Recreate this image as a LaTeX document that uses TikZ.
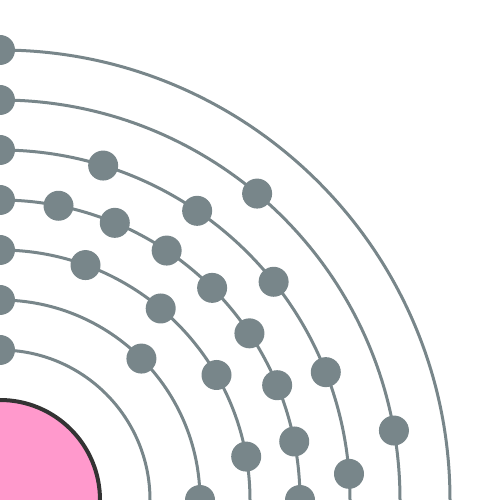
\documentclass[tikz,border=0pt]{standalone}
\definecolor{shellgray}{HTML}{78868A}
\definecolor{nucpink}{HTML}{FF99CC}
\definecolor{nucedge}{HTML}{333333}
\tikzset{
  shell/.style={draw=shellgray, line width=3pt},
  electron/.style={circle, fill=shellgray, minimum size=30pt, inner sep=0pt},
  nucleus/.style={circle, fill=nucpink, draw=nucedge, line width=4pt, minimum size=200pt, inner sep=0pt}
}
\begin{document}
\begin{tikzpicture}[x=1pt,y=1pt]
\useasboundingbox (0,0) rectangle (500,500);
\clip (0,0) rectangle (500,500);
\node[nucleus] (nuc) at (0,0) {};
\foreach \r in {150,200,250,300,350,400,450} \draw[shell] (0,0) circle (\r);
% shell 1: 2 electrons
\foreach \i in {0,1} \node[electron] (e1-\i) at ({90+180*\i}:150) {};
% shell 2: 8
\foreach \i in {0,...,7} \node[electron] (e2-\i) at ({90+45*\i}:200) {};
% shell 3: 18
\foreach \i in {0,...,17} \node[electron] (e3-\i) at ({90+20*\i}:250) {};
% shell 4: 32
\foreach \i in {0,...,31} \node[electron] (e4-\i) at ({90+11.25*\i}:300) {};
% shell 5: 21
\foreach \i in {0,...,20} \node[electron] (e5-\i) at ({90+360/21*\i}:350) {};
% shell 6: 9
\foreach \i in {0,...,8} \node[electron] (e6-\i) at ({90+40*\i}:400) {};
% shell 7: 2
\foreach \i in {0,1} \node[electron] (e7-\i) at ({90+180*\i}:450) {};
\end{tikzpicture}
\end{document}
